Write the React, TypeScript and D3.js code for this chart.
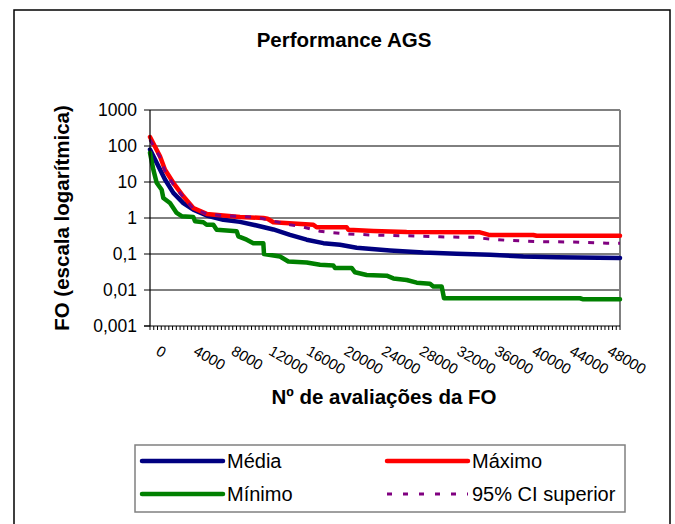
import React from "react";
import * as d3 from "d3";

const chartTitle = "Performance AGS";
const xTitle = "Nº de avaliações da FO";
const yTitle = "FO (escala logarítmica)";

const yTickValues = [0.001, 0.01, 0.1, 1, 10, 100, 1000];
const yTickLabels = ["0,001", "0,01", "0,1", "1", "10", "100", "1000"];
const xLabelValues = [0, 4000, 8000, 12000, 16000, 20000, 24000, 28000, 32000, 36000, 40000, 44000, 48000];

const seriesNames = ["Média", "Máximo", "Mínimo", "95% CI superior"];
const seriesColors = ["#000080", "#FF0000", "#008000", "#800080"];

const media: [number, number][] = [
  [0, 80], [709, 34], [1596, 11.7], [2482, 5.0], [3546, 2.6], [4610, 1.7], [6028, 1.17],
  [7801, 0.89], [9574, 0.78], [11348, 0.62], [13121, 0.48], [14894, 0.34], [16667, 0.25],
  [18440, 0.2], [20213, 0.18], [21986, 0.15], [25532, 0.126], [29078, 0.11], [32624, 0.102],
  [36170, 0.095], [39716, 0.085], [43262, 0.081], [50000, 0.078],
];

const maximo: [number, number][] = [
  [0, 178], [1064, 52], [1596, 22], [2482, 9.5], [3546, 4], [4610, 1.9], [6028, 1.3],
  [7801, 1.17], [9574, 1.07], [12057, 1.0], [12500, 0.95], [13121, 0.76], [17376, 0.65],
  [17730, 0.55], [20922, 0.55], [21099, 0.47], [23759, 0.435], [27305, 0.41], [35106, 0.4],
  [36170, 0.336], [40780, 0.336], [41135, 0.32], [50000, 0.32],
];

const minimo: [number, number][] = [
  [0, 65], [355, 22], [709, 9.5], [1241, 6.1], [1418, 3.6], [2128, 2.6], [2837, 1.38],
  [3369, 1.12], [4610, 1.07], [4787, 0.81], [5674, 0.76], [6028, 0.65], [6738, 0.65],
  [7092, 0.47], [9220, 0.43], [9397, 0.31], [10284, 0.25], [10993, 0.2], [12057, 0.2],
  [12128, 0.1], [13830, 0.085], [14716, 0.062], [16667, 0.058], [18085, 0.05], [19504, 0.048],
  [19681, 0.041], [21454, 0.041], [21809, 0.031], [23050, 0.026], [25177, 0.025], [25887, 0.021],
  [27305, 0.019], [28369, 0.016], [29787, 0.015], [30142, 0.0126], [31028, 0.0126],
  [31277, 0.0059], [45745, 0.0059], [46099, 0.0055], [50000, 0.0055],
];

const ciSuperior: [number, number][] = [
  [0, 150], [1064, 48], [1596, 20], [2482, 8.5], [3546, 3.8], [4610, 1.8], [6028, 1.3],
  [7979, 1.15], [9574, 1.1], [11348, 1.05], [13121, 0.82], [14894, 0.65], [16312, 0.56],
  [18085, 0.43], [19504, 0.39], [21099, 0.36], [23759, 0.336], [27305, 0.32], [30851, 0.3],
  [34397, 0.29], [36170, 0.26], [37943, 0.24], [41489, 0.22], [45035, 0.215], [48582, 0.2],
  [50000, 0.2],
];

const W = 675;
const H = 524;
const plot = { left: 150, right: 620, top: 110, bottom: 326 };
const FONT = "'Liberation Sans', Arial, sans-serif";

export default function App() {
  const x = d3.scaleLinear().domain([0, 50000]).range([plot.left, plot.right]);
  const y = d3.scaleLog().domain([0.001, 1000]).range([plot.bottom, plot.top]);
  const line = d3
    .line<[number, number]>()
    .x((d) => x(d[0]))
    .y((d) => y(d[1]));

  const minorTicks = d3.range(0, 50001, 400);
  const series = [
    { data: media, color: seriesColors[0], width: 4.5, dash: undefined as string | undefined },
    { data: maximo, color: seriesColors[1], width: 4.5, dash: undefined },
    { data: minimo, color: seriesColors[2], width: 4.5, dash: undefined },
    { data: ciSuperior, color: seriesColors[3], width: 3, dash: "6,9" },
  ];

  const legendItems = [
    { name: seriesNames[0], color: seriesColors[0], lx: 142, ly: 461, dash: undefined as string | undefined, w: 4.5 },
    { name: seriesNames[1], color: seriesColors[1], lx: 387, ly: 461, dash: undefined, w: 4.5 },
    { name: seriesNames[2], color: seriesColors[2], lx: 142, ly: 494, dash: undefined, w: 4.5 },
    { name: seriesNames[3], color: seriesColors[3], lx: 387, ly: 494, dash: "5,11", w: 3 },
  ];

  return (
    <svg
      width={W}
      height={H}
      style={{ position: "absolute", left: 0, top: 0, background: "#fff" }}
      fontFamily={FONT}
    >
      <rect x={0} y={0} width={W} height={H} fill="#fff" />
      {/* outer chart border */}
      <rect x={14} y={10} width={656} height={540} fill="none" stroke="#000" strokeWidth={1.5} />

      <text x={344} y={47} textAnchor="middle" fontSize={20.5} fontWeight="bold">
        {chartTitle}
      </text>

      {/* gridlines */}
      {yTickValues.slice(1, -1).map((v) => (
        <line key={"g" + v} x1={plot.left} x2={plot.right} y1={y(v)} y2={y(v)} stroke="#000" strokeWidth={1} />
      ))}

      {/* plot area border top/right */}
      <line x1={plot.left} x2={plot.right} y1={plot.top} y2={plot.top} stroke="#808080" strokeWidth={2} />
      <line x1={plot.right} x2={plot.right} y1={plot.top} y2={plot.bottom} stroke="#808080" strokeWidth={2} />

      {/* series */}
      {series.map((s, i) => (
        <path
          key={"s" + i}
          d={line(s.data) || ""}
          fill="none"
          stroke={s.color}
          strokeWidth={s.width}
          strokeDasharray={s.dash}
          strokeLinejoin="round"
          strokeLinecap={s.dash ? "butt" : "round"}
        />
      ))}

      {/* axes */}
      <line x1={plot.left} x2={plot.left} y1={plot.top} y2={plot.bottom} stroke="#000" strokeWidth={1.2} />
      <line x1={plot.left - 6} x2={plot.right} y1={plot.bottom} y2={plot.bottom} stroke="#000" strokeWidth={1.2} />
      {yTickValues.map((v, i) => (
        <g key={"yt" + v}>
          <line x1={plot.left - 6} x2={plot.left} y1={y(v)} y2={y(v)} stroke="#000" />
          <text x={plot.left - 13} y={y(v)} dy="0.35em" textAnchor="end" fontSize={17.5}>
            {yTickLabels[i]}
          </text>
        </g>
      ))}
      {minorTicks.map((v) => (
        <line key={"xt" + v} x1={x(v)} x2={x(v)} y1={plot.bottom} y2={plot.bottom + 4} stroke="#000" />
      ))}
      {xLabelValues.map((v) => (
        <text
          key={"xl" + v}
          transform={`translate(${x(v) + 5},${plot.bottom + 28}) rotate(30)`}
          fontSize={15}
          textAnchor="start"
        >
          {String(v)}
        </text>
      ))}

      <text x={384} y={404} textAnchor="middle" fontSize={20.5} fontWeight="bold">
        {xTitle}
      </text>
      <text
        transform={`translate(69,218) rotate(-90)`}
        textAnchor="middle"
        fontSize={20.5}
        fontWeight="bold"
      >
        {yTitle}
      </text>

      {/* legend */}
      <rect x={135} y={445} width={490} height={67} fill="#fff" stroke="#808080" strokeWidth={1.5} />
      {legendItems.map((it) => (
        <g key={"lg" + it.name}>
          <line
            x1={it.lx}
            x2={it.lx + 81}
            y1={it.ly}
            y2={it.ly}
            stroke={it.color}
            strokeWidth={it.w}
            strokeDasharray={it.dash}
            strokeLinecap={it.dash ? "butt" : "round"}
          />
          <text x={it.lx + 85} y={it.ly} dy="0.36em" fontSize={20}>
            {it.name}
          </text>
        </g>
      ))}
    </svg>
  );
}
